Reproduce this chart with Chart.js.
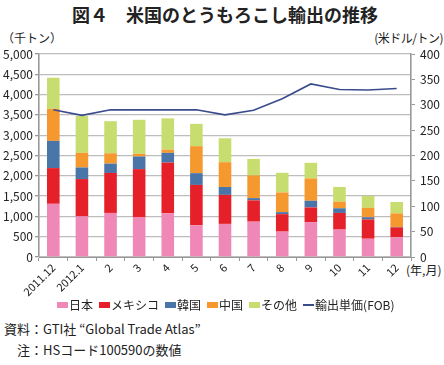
<!DOCTYPE html>
<html>
<head>
<meta charset="utf-8">
<script src="https://cdn.jsdelivr.net/npm/chart.js@4"></script>
<style>
  body { margin: 0; background: #fff; font-family: "Noto Sans CJK JP", sans-serif; color: #222; }
  #wrap { position: relative; width: 444px; height: 365px; overflow: hidden; }
  #chart { position: absolute; left: 0; top: 0; }
  .txt { position: absolute; white-space: nowrap; line-height: 1; }
  #title { left: 0; width: 450px; top: 5px; text-align: center; font-size: 18px; font-weight: bold; }
  #legend { position: absolute; left: 57px; top: 298px; display: flex; align-items: center; font-size: 12px; line-height: 14px; }
  #legend .item { display: flex; align-items: center; margin-right: 6px; }
  #legend .box { width: 11px; height: 6px; margin-right: 1px; }
  #legend .line { width: 11px; height: 2px; margin-right: 1px; }
</style>
</head>
<body>
<div id="wrap">
  <div id="title" class="txt">図４　米国のとうもろこし輸出の推移</div>
  <div class="txt" style="left:2px; top:32px; font-size:12px;">（千トン）</div>
  <div class="txt" style="right:1px; top:32px; font-size:12px; letter-spacing:-0.5px;">(米ドル/トン)</div>
  <div class="txt" style="left:406px; top:264px; font-size:12px;">(年,月)</div>
  <canvas id="chart" width="444" height="300"></canvas>
  <div id="legend"></div>
  <div class="txt" style="left:4px; top:322px; font-size:13px;">資料：GTI社 “Global Trade Atlas”</div>
  <div class="txt" style="left:4px; top:343px; font-size:13px;">　注：HSコード100590の数値</div>
</div>
<script>
// months
const months = ['2011.12', '2012.1', '2', '3', '4', '5', '6', '7', '8', '9', '10', '11', '12'];

// exports by destination (thousand tons)
const japan  = [1310, 1000, 1085, 985, 1075, 780, 815, 870, 625, 860, 675, 450, 485];
const mexico = [880, 920, 985, 1180, 1250, 995, 715, 525, 430, 360, 410, 475, 245];
const korea  = [670, 285, 230, 310, 240, 290, 195, 55, 50, 165, 115, 55, 10];
const china  = [790, 360, 255, 65, 80, 665, 610, 560, 485, 550, 165, 230, 335];
const others = [765, 910, 790, 840, 770, 550, 590, 405, 485, 385, 360, 295, 280];

// unit export price, FOB (USD/ton)
const price = [290, 279, 290, 290, 290, 290, 280, 289, 312, 341, 330, 329, 332];

const colors = {
  japan: '#ef88b6',
  mexico: '#e52029',
  korea: '#4a75a8',
  china: '#f5992e',
  others: '#c8dd6f',
  price: '#3a4b8c'
};

Chart.defaults.font.family = '"Noto Sans CJK JP", sans-serif';
Chart.defaults.font.size = 12;
Chart.defaults.color = '#222';

function barSet(label, data, color) {
  return {
    type: 'bar',
    label: label,
    data: data,
    backgroundColor: color,
    borderWidth: 0,
    barPercentage: 0.44,
    categoryPercentage: 1,
    yAxisID: 'y',
    order: 1
  };
}

const ctx = document.getElementById('chart');
const chart = new Chart(ctx, {
  data: {
    labels: months,
    datasets: [
      barSet('日本', japan, colors.japan),
      barSet('メキシコ', mexico, colors.mexico),
      barSet('韓国', korea, colors.korea),
      barSet('中国', china, colors.china),
      barSet('その他', others, colors.others),
      {
        type: 'line',
        label: '輸出単価(FOB)',
        data: price,
        borderColor: colors.price,
        borderWidth: 1.6,
        pointRadius: 0,
        tension: 0,
        yAxisID: 'y2',
        order: 0
      }
    ]
  },
  options: {
    responsive: false,
    animation: false,
    layout: { padding: { top: 54, left: 0, right: 0, bottom: 0 } },
    plugins: {
      legend: { display: false },
      tooltip: { enabled: false }
    },
    scales: {
      x: {
        stacked: true,
        offset: true,
        grid: { offset: true, drawOnChartArea: false, color: '#999', tickLength: 4 },
        border: { color: '#999', width: 1 },
        ticks: { minRotation: 45, maxRotation: 45, padding: 0, autoSkip: false, font: { size: 11 } },
        afterFit: s => { s.height = 43; }
      },
      y: {
        stacked: true,
        min: 0,
        max: 5000,
        grid: { color: '#bdbdbd', lineWidth: 1.3, tickLength: 4, tickColor: '#999' },
        border: { color: '#999', width: 1.6 },
        ticks: {
          stepSize: 500,
          padding: 2,
          callback: v => v.toLocaleString('en-US')
        },
        afterFit: s => { s.width = 39; }
      },
      y2: {
        position: 'right',
        min: 0,
        max: 400,
        grid: { drawOnChartArea: false, tickLength: 4, color: '#999' },
        border: { color: '#999', width: 1.6 },
        ticks: { stepSize: 50, padding: 5 },
        afterFit: s => { s.width = 33; }
      }
    }
  }
});

// legend drawn from the chart's datasets
const legend = document.getElementById('legend');
chart.data.datasets.forEach(ds => {
  const item = document.createElement('div');
  item.className = 'item';
  const mark = document.createElement('span');
  if (ds.type === 'line') {
    mark.className = 'line';
    mark.style.background = ds.borderColor;
  } else {
    mark.className = 'box';
    mark.style.background = ds.backgroundColor;
  }
  const label = document.createElement('span');
  label.textContent = ds.label;
  item.appendChild(mark);
  item.appendChild(label);
  legend.appendChild(item);
});
</script>
</body>
</html>
